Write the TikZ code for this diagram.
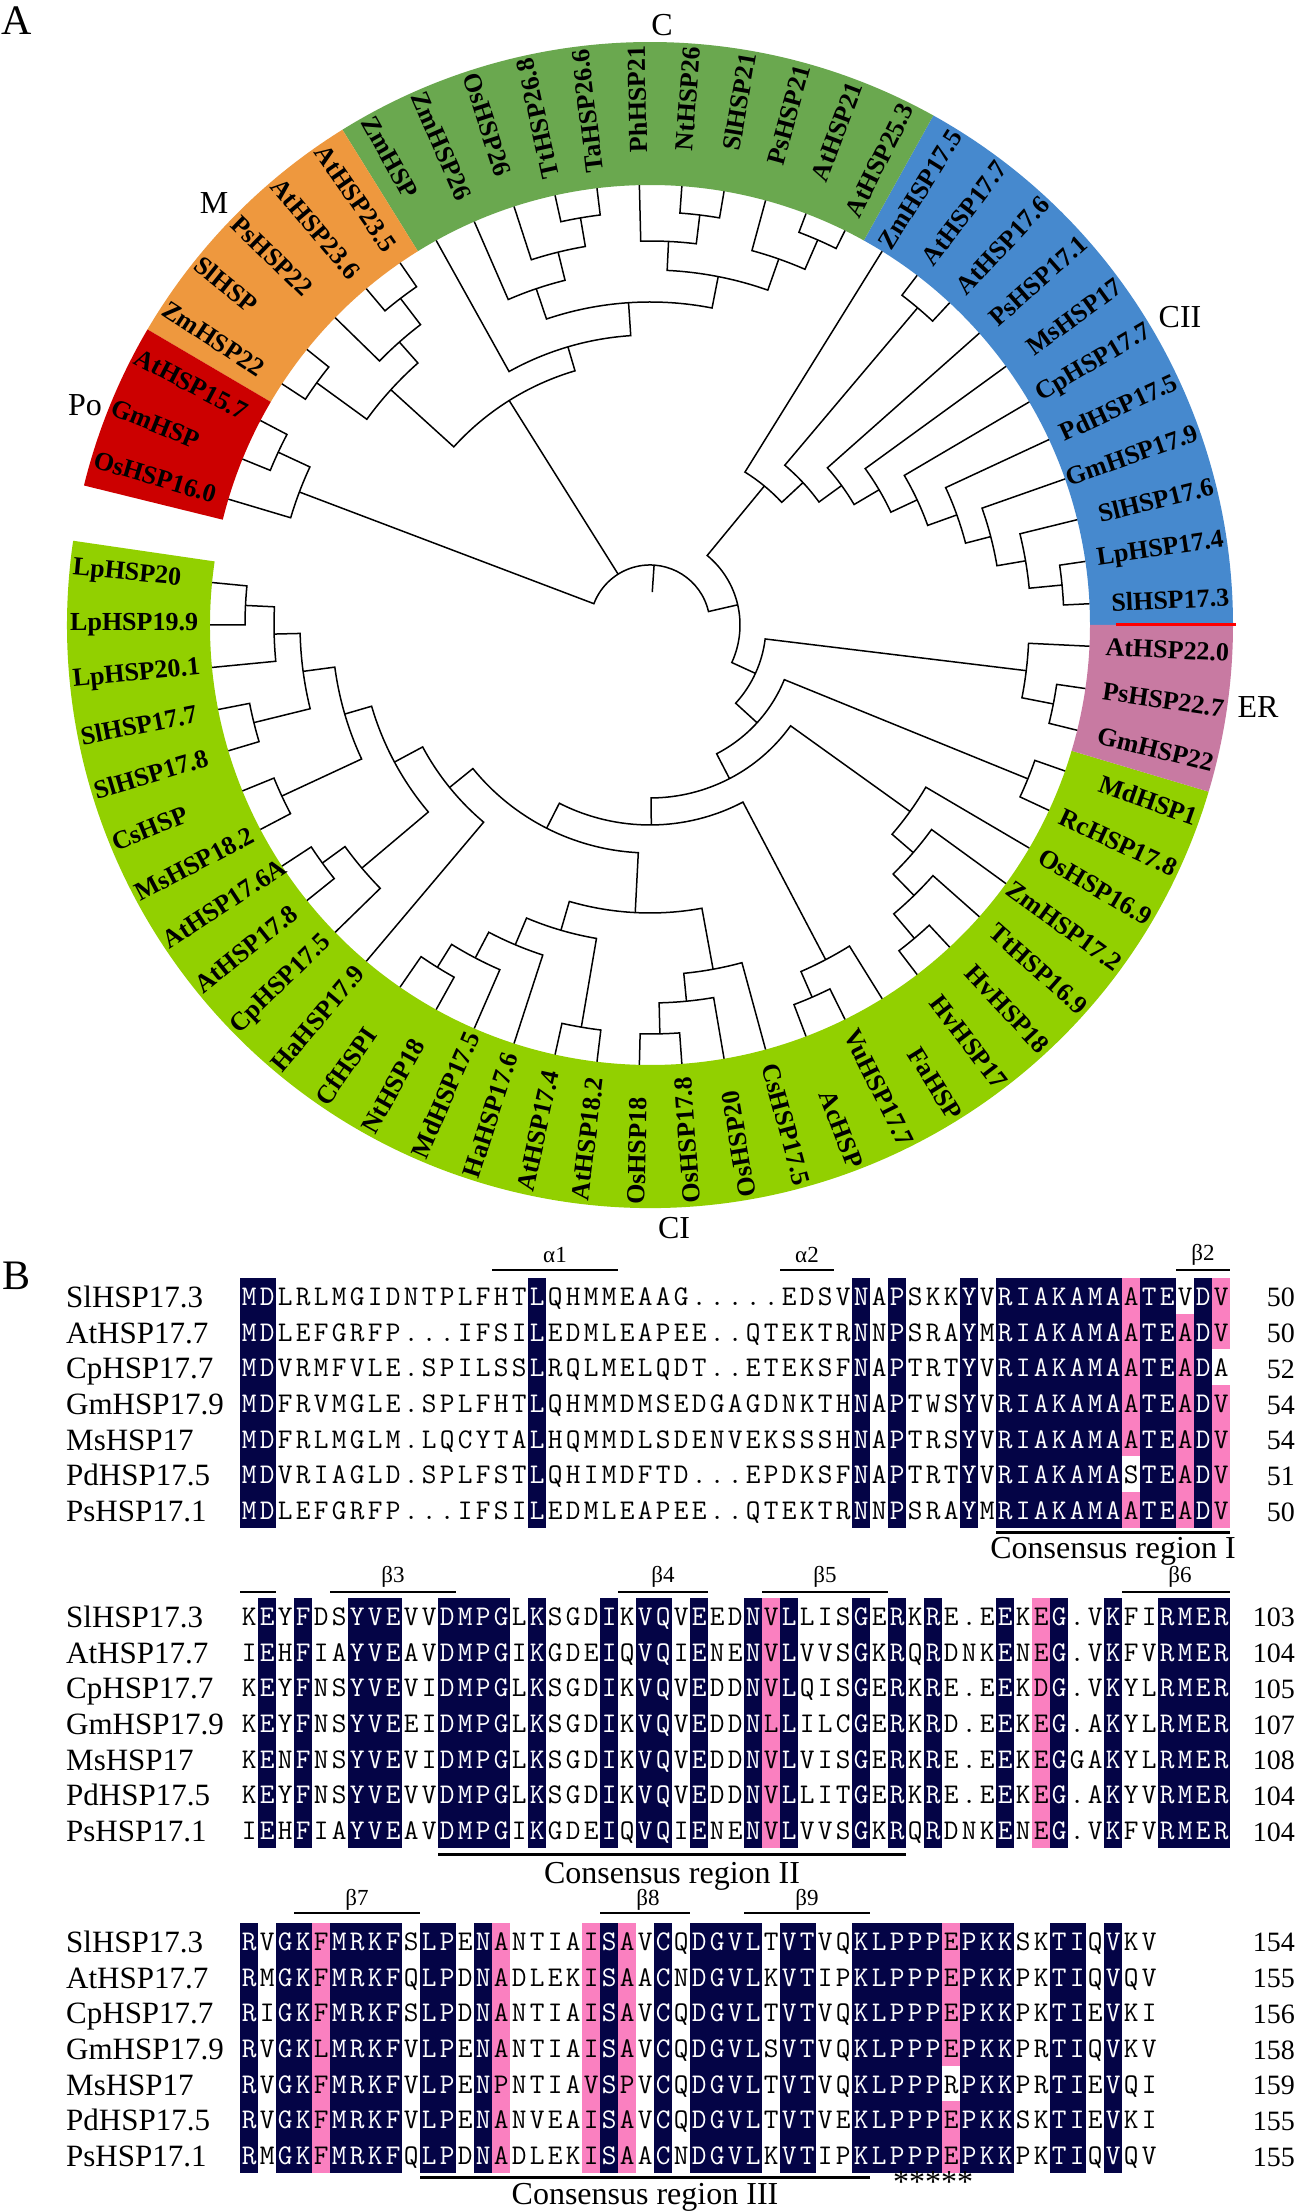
\documentclass[tikz,border=0pt]{standalone}
\usepackage{fontspec}
\setmainfont{Liberation Serif}
\definecolor{cC}{RGB}{106,168,79}
\definecolor{cM}{RGB}{238,152,62}
\definecolor{cPo}{RGB}{204,0,0}
\definecolor{cCII}{RGB}{70,137,206}
\definecolor{cER}{RGB}{200,122,162}
\definecolor{cCI}{RGB}{146,208,0}
\definecolor{navy}{RGB}{4,4,70}
\definecolor{pinkc}{RGB}{250,128,192}
\definecolor{sepred}{RGB}{255,0,0}
\newcommand\setleaf[2]{%
  \pgfmathsetmacro\tnang{(#2+0.5)*5.538462}%
  \ifdim\tnang pt>170pt\relax \pgfmathsetmacro\tnang{\tnang-360}\fi
  \expandafter\xdef\csname ta@#1\endcsname{\tnang}%
  \expandafter\xdef\csname tr@#1\endcsname{440}}
\newcommand\tnode[4]{%
  \edef\tnA{\csname ta@#3\endcsname}%
  \edef\tnB{\csname ta@#4\endcsname}%
  \edef\tnRA{\csname tr@#3\endcsname}%
  \edef\tnRB{\csname tr@#4\endcsname}%
  \pgfmathsetmacro\tnM{(\tnA+\tnB)/2}%
  \expandafter\xdef\csname ta@#1\endcsname{\tnM}%
  \expandafter\xdef\csname tr@#1\endcsname{#2}%
  \draw[branch] (\tnA:\tnRA) -- (\tnA:#2) arc[start angle=\tnA, end angle=\tnB, radius=#2] -- (\tnB:\tnRB);}
\newcommand\ringsec[3]{\fill[#1] (#2:440) arc[start angle=#2, end angle=#3, radius=440] -- (#3:583) arc[start angle=#3, end angle=#2, radius=583] -- cycle;}
% one residue per 18pt cell; lower-case letters = white residue on navy
\newcommand\sqchar[1]{\makebox[18pt][c]{\ifnum\uccode`#1=0 #1\else\ifnum\uccode`#1=`#1 #1\else\textcolor{white}{\char\uccode`#1}\fi\fi}}
\def\sqloop#1{\ifx\relax#1\else\sqchar{#1}\expandafter\sqloop\fi}
\newcommand\sq[1]{\sqloop#1\relax}
\newcommand\seqrow[5]{%
  \node[namef, anchor=base west] (#1n) at (66,{2212-(#2)-10.5}) {#3};
  \node[seqf, anchor=base west] (#1s) at (240,{2212-(#2)-8.5}) {\sq{#4}};
  \node[numf, anchor=base east] (#1c) at (1295,{2212-(#2)-10}) {#5};}
\newcommand\bx[6]{\fill[#1] ({240+(#3-1)*18},{2212-(#2)+19-(#5-1)*35.7}) rectangle ({240+(#4)*18},{2212-(#2)+19-(#6)*35.7});}
\tikzset{
  branch/.style={line width=1.5pt, black},
  lbl/.style={font=\fontsize{26}{26}\selectfont\bfseries, inner sep=0pt},
  clade/.style={font=\fontsize{32}{32}\selectfont, inner sep=0pt},
  panel/.style={font=\fontsize{42}{42}\selectfont, inner sep=0pt},
  seqf/.style={font=\ttfamily\fontsize{28.5}{28.5}\selectfont\addfontfeatures{FakeBold=1.2}, inner sep=0pt},
  namef/.style={font=\fontsize{31}{31}\selectfont, inner sep=0pt},
  numf/.style={font=\fontsize{28}{28}\selectfont, inner sep=0pt},
  ann/.style={line width=2.5pt},
  consline/.style={line width=3pt},
  annl/.style={font=\fontsize{23}{23}\selectfont, inner sep=0pt},
  cons/.style={font=\fontsize{32}{32}\selectfont, inner sep=0pt},
}
\begin{document}
\begin{tikzpicture}[x=1pt,y=1pt]
\useasboundingbox (0,0) rectangle (1299,2212);
\fill[white] (0,0) rectangle (1299,2212);
% ---------------- Part A ----------------
\node[panel] (panelA) at (17,2191) {A};
\begin{scope}[shift={(650,1587)}]
\ringsec{cCII}{0}{60.923}
\ringsec{cC}{60.923}{121.846}
\ringsec{cM}{121.846}{149.538}
\ringsec{cPo}{149.538}{166.154}
\ringsec{cCI}{-188.308}{-16.615}
\ringsec{cER}{-16.615}{0}
\draw[sepred, line width=3pt] (466,0) -- (586,0);
\foreach \k in {0,...,64}{\setleaf{L\k}{\k}}
\tnode{n9}{414}{L0}{L1}
\tnode{n8}{381}{n9}{L2}
\tnode{n7}{352}{n8}{L3}
\tnode{n6}{326}{n7}{L4}
\tnode{n5}{295}{n6}{L5}
\tnode{n4}{266}{n5}{L6}
\tnode{n3}{237}{n4}{L7}
\tnode{pA}{415}{L8}{L9}
\tnode{n2}{209}{n3}{pA}
\tnode{n1}{180}{n2}{L10}
\tnode{P1}{420}{L11}{L12}
\tnode{P2}{388}{P1}{L13}
\tnode{P3}{413}{L14}{L15}
\tnode{Q2}{384}{P3}{L16}
\tnode{P4}{355}{P2}{Q2}
\tnode{Pt}{413}{L17}{L18}
\tnode{Q4}{384}{Pt}{L19}
\tnode{Q7}{355}{Q4}{L20}
\tnode{Q5}{323}{P4}{Q7}
\tnode{Q6}{290}{Q5}{L21}
\tnode{M1}{411}{L22}{L23}
\tnode{M2}{378}{M1}{L24}
\tnode{M3}{412}{L25}{L26}
\tnode{Mr}{350}{M2}{M3}
\tnode{X}{265}{Q6}{Mr}
\tnode{Pp}{410}{L27}{L28}
\tnode{Po}{375}{Pp}{L29}
\tnode{E1}{411}{L63}{L62}
\tnode{Er}{379}{L64}{E1}
\tnode{MR}{408}{L61}{L60}
\tnode{S4}{410}{L56}{L55}
\tnode{S3}{378}{L57}{S4}
\tnode{S2}{348}{L58}{S3}
\tnode{S1}{320}{L59}{S2}
\tnode{F2}{406}{L53}{L52}
\tnode{F1}{378}{L54}{F2}
\tnode{H4}{409}{L49}{L48}
\tnode{H3}{378}{L50}{H4}
\tnode{H1}{350}{L51}{H3}
\tnode{Ap}{408}{L47}{L46}
\tnode{Cn}{403}{L43}{L42}
\tnode{J1}{376}{L44}{Cn}
\tnode{J2}{347}{L45}{J1}
\tnode{H2}{318}{Ap}{J2}
\tnode{G1}{288}{H1}{H2}
\tnode{A6}{405}{L38}{L39}
\tnode{Mc}{377}{A6}{L40}
\tnode{Lp}{405}{L31}{L32}
\tnode{Y2}{376}{Lp}{L33}
\tnode{Sl}{408}{L34}{L35}
\tnode{Y3}{350}{Y2}{Sl}
\tnode{CM}{406}{L36}{L37}
\tnode{Y4}{318}{Y3}{CM}
\tnode{Y5}{290}{Y4}{Mc}
\tnode{G2}{258}{Y5}{L41}
\tnode{R6}{228}{G1}{G2}
\tnode{R5}{200}{F1}{R6}
\tnode{R4}{173}{S1}{R5}
\tnode{R3}{145}{MR}{R4}
\tnode{R2}{116}{Er}{R3}
\tnode{R1}{90}{n1}{R2}
\edef\tnA{\csname ta@R1\endcsname}\edef\tnB{\csname ta@Po\endcsname}\edef\tnX{\csname ta@X\endcsname}
\draw[branch] (\tnA:90) -- (\tnA:60) arc[start angle=\tnA, end angle=\tnB, radius=60] -- (\tnB:375);
\draw[branch] (\tnX:60) -- (\tnX:265);
\pgfmathsetmacro\tnM{(\tnA+\tnB)/2}
\draw[branch] (\tnM:60) -- (\tnM:33);
\foreach \k/\nm in {0/SlHSP17.3,1/LpHSP17.4,2/SlHSP17.6,3/GmHSP17.9,4/PdHSP17.5,5/CpHSP17.7,6/MsHSP17,7/PsHSP17.1,8/AtHSP17.6,9/AtHSP17.7,10/ZmHSP17.5,11/AtHSP25.3,12/AtHSP21,13/PsHSP21,14/SlHSP21,15/NtHSP26,16/PhHSP21,17/TaHSP26.6,18/TtHSP26.8,19/OsHSP26,20/ZmHSP26,21/ZmHSP,22/AtHSP23.5,23/AtHSP23.6,24/PsHSP22,25/SlHSP,26/ZmHSP22,27/AtHSP15.7,28/GmHSP,29/OsHSP16.0,31/LpHSP20,32/LpHSP19.9,33/LpHSP20.1,34/SlHSP17.7,35/SlHSP17.8,36/CsHSP,37/MsHSP18.2,38/AtHSP17.6A,39/AtHSP17.8,40/CpHSP17.5,41/HaHSP17.9,42/CfHSPI,43/NtHSP18,44/MdHSP17.5,45/HaHSP17.6,46/AtHSP17.4,47/AtHSP18.2,48/OsHSP18,49/OsHSP17.8,50/OsHSP20,51/CsHSP17.5,52/AcHSP,53/VuHSP17.7,54/FaHSP,55/HvHSP17,56/HvHSP18,57/TtHSP16.9,58/ZmHSP17.2,59/OsHSP16.9,60/RcHSP17.8,61/MdHSP1,62/GmHSP22,63/PsHSP22.7,64/AtHSP22.0}{
  \pgfmathsetmacro\la{(\k+0.5)*5.538462}
  \pgfmathtruncatemacro\lf{(\la>105)&&(\la<283)}
  \ifnum\lf=1
    \pgfmathsetmacro\lr{\la-180}
    \node[lbl,anchor=west,rotate=\lr] (lab\k) at (\la:580) {\nm};
  \else
    \node[lbl,anchor=east,rotate=\la] (lab\k) at (\la:580) {\nm};
  \fi
}
\end{scope}
\node[clade] (cladeC) at (662,2187) {C};
\node[clade] (cladeM) at (214,2009) {M};
\node[clade] (cladePo) at (85,1807) {Po};
\node[clade] (cladeCII) at (1180,1895) {CII};
\node[clade] (cladeER) at (1258,1505) {ER};
\node[clade] (cladeCI) at (674,984) {CI};
% ---------------- Part B ----------------
\node[panel] (panelB) at (17,936) {B};
% block 1 boxes
\foreach \a/\b in {1/2,17/17,35/35,37/37,41/41,43/49,51/52,54/54}{\bx{navy}{1297}{\a}{\b}{1}{7}}
\bx{pinkc}{1297}{50}{50}{1}{5}
\bx{pinkc}{1297}{50}{50}{7}{7}
\bx{pinkc}{1297}{53}{53}{2}{7}
\bx{pinkc}{1297}{55}{55}{1}{2}
\bx{pinkc}{1297}{55}{55}{4}{7}
% block 2 boxes
\foreach \a/\b in {2/2,4/4,7/9,12/15,17/17,21/21,23/24,26/26,29/29,31/31,35/35,37/37,39/39,43/43,46/46,49/49,52/55}{\bx{navy}{1617}{\a}{\b}{1}{7}}
\bx{pinkc}{1617}{30}{30}{1}{7}
\bx{pinkc}{1617}{45}{45}{1}{7}
% block 3 boxes
\foreach \a/\b in {1/1,3/4,6/9,11/12,14/14,21/21,24/24,26/29,31/32,35/39,41/43,46/47,49/49}{\bx{navy}{1942}{\a}{\b}{1}{7}}
\foreach \a in {5,15,20,22}{\bx{pinkc}{1942}{\a}{\a}{1}{7}}
\bx{pinkc}{1942}{40}{40}{1}{4}
\bx{pinkc}{1942}{40}{40}{6}{7}
% block 1 rows
\seqrow{a1}{1297}{SlHSP17.3}{mdLRLMGIDNTPLFHTlQHMMEAAG.....EDSVnApSKKyVriakamaAteVdV}{50}
\seqrow{a2}{1297+35.7}{AtHSP17.7}{mdLEFGRFP...IFSIlEDMLEAPEE..QTEKTRnNpSRAyMriakamaAteAdV}{50}
\seqrow{a3}{1297+2*35.7}{CpHSP17.7}{mdVRMFVLE.SPILSSlRQLMELQDT..ETEKSFnApTRTyVriakamaAteAdA}{52}
\seqrow{a4}{1297+3*35.7}{GmHSP17.9}{mdFRVMGLE.SPLFHTlQHMMDMSEDGAGDNKTHnApTWSyVriakamaAteAdV}{54}
\seqrow{a5}{1297+4*35.7}{MsHSP17}{mdFRLMGLM.LQCYTAlHQMMDLSDENVEKSSSHnApTRSyVriakamaAteAdV}{54}
\seqrow{a6}{1297+5*35.7}{PdHSP17.5}{mdVRIAGLD.SPLFSTlQHIMDFTD...EPDKSFnApTRTyVriakamaSteAdV}{51}
\seqrow{a7}{1297+6*35.7}{PsHSP17.1}{mdLEFGRFP...IFSIlEDMLEAPEE..QTEKTRnNpSRAyMriakamaAteAdV}{50}
% block 2 rows
\seqrow{b1}{1617}{SlHSP17.3}{KeYfDSyveVVdmpgLkSGDiKvqVeEDnVlLISgErKrE.EeKEg.VkFIrmer}{103}
\seqrow{b2}{1617+35.7}{AtHSP17.7}{IeHfIAyveAVdmpgIkGDEiQvqIeNEnVlVVSgKrQrDNKeNEg.VkFVrmer}{104}
\seqrow{b3}{1617+2*35.7}{CpHSP17.7}{KeYfNSyveVIdmpgLkSGDiKvqVeDDnVlQISgErKrE.EeKDg.VkYLrmer}{105}
\seqrow{b4}{1617+3*35.7}{GmHSP17.9}{KeYfNSyveEIdmpgLkSGDiKvqVeDDnLlILCgErKrD.EeKEg.AkYLrmer}{107}
\seqrow{b5}{1617+4*35.7}{MsHSP17}{KeNfNSyveVIdmpgLkSGDiKvqVeDDnVlVISgErKrE.EeKEgGAkYLrmer}{108}
\seqrow{b6}{1617+5*35.7}{PdHSP17.5}{KeYfNSyveVVdmpgLkSGDiKvqVeDDnVlLITgErKrE.EeKEg.AkYVrmer}{104}
\seqrow{b7}{1617+6*35.7}{PsHSP17.1}{IeHfIAyveAVdmpgIkGDEiQvqIeNEnVlVVSgKrQrDNKeNEg.VkFVrmer}{104}
% block 3 rows
\seqrow{c1}{1942}{SlHSP17.3}{rVgkFmrkfSlpEnANTIAIsAVcQdgvlTvtVQklpppEpkkSKtiQvKV}{154}
\seqrow{c2}{1942+35.7}{AtHSP17.7}{rMgkFmrkfQlpDnADLEKIsAAcNdgvlKvtIPklpppEpkkPKtiQvQV}{155}
\seqrow{c3}{1942+2*35.7}{CpHSP17.7}{rIgkFmrkfSlpDnANTIAIsAVcQdgvlTvtVQklpppEpkkPKtiEvKI}{156}
\seqrow{c4}{1942+3*35.7}{GmHSP17.9}{rVgkLmrkfVlpEnANTIAIsAVcQdgvlSvtVQklpppEpkkPRtiQvKV}{158}
\seqrow{c5}{1942+4*35.7}{MsHSP17}{rVgkFmrkfVlpEnPNTIAVsPVcQdgvlTvtVQklpppRpkkPRtiEvQI}{159}
\seqrow{c6}{1942+5*35.7}{PdHSP17.5}{rVgkFmrkfVlpEnANVEAIsAVcQdgvlTvtVEklpppEpkkSKtiEvKI}{155}
\seqrow{c7}{1942+6*35.7}{PsHSP17.1}{rMgkFmrkfQlpDnADLEKIsAAcNdgvlKvtIPklpppEpkkPKtiQvQV}{155}
% annotations block 1
\draw[ann] (492,942) -- (618,942); \node[annl] (ta1) at (555,957) {α1};
\draw[ann] (780,942) -- (834,942); \node[annl] (ta2) at (807,957) {α2};
\draw[ann] (1176,942) -- (1230,942); \node[annl] (tb2) at (1203,957) {β2};
\draw[consline] (996,679) -- (1230,679); \node[cons, anchor=base] (cr1) at (1113,653.5) {Consensus region I};
% annotations block 2
\draw[ann] (240,620) -- (276,620);
\draw[ann] (330,620) -- (456,620); \node[annl] (tb3) at (393,635) {β3};
\draw[ann] (618,620) -- (708,620); \node[annl] (tb4) at (663,635) {β4};
\draw[ann] (762,620) -- (888,620); \node[annl] (tb5) at (825,635) {β5};
\draw[ann] (1122,620) -- (1230,620); \node[annl] (tb6) at (1180,635) {β6};
\draw[consline] (438,357) -- (906,357); \node[cons, anchor=base] (cr2) at (672,328.5) {Consensus region II};
% annotations block 3
\draw[ann] (294,299) -- (420,299); \node[annl] (tb7) at (357,312) {β7};
\draw[ann] (600,299) -- (690,299); \node[annl] (tb8) at (648,312) {β8};
\draw[ann] (744,299) -- (870,299); \node[annl] (tb9) at (807,312) {β9};
\draw[consline] (420,34) -- (870,34); \node[cons, anchor=base] (cr3) at (645,7) {Consensus region III};
\node[cons] (stars) at (933,30) {*****};
\end{tikzpicture}
\end{document}
